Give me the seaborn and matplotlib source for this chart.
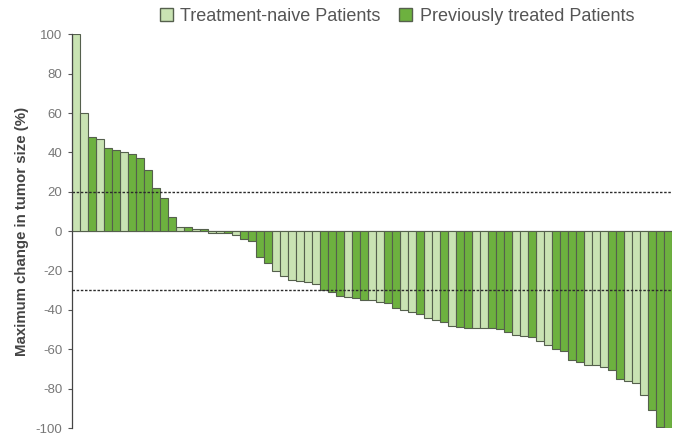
import matplotlib
matplotlib.use("Agg")
import matplotlib.pyplot as plt
import seaborn as sns
import pandas as pd
from matplotlib.patches import Patch

# maximum change in tumor size (%) per patient, sorted as in the waterfall
change = [100, 60, 48, 47, 42, 41, 40, 39, 37, 31, 22, 17, 7, 2, 2, 1, 1,
          -1, -1, -1, -2, -4, -5, -13, -16, -20, -23, -25, -25.5, -26, -27,
          -30, -31, -33, -33.5, -34, -35, -35, -36, -36.5, -39, -40, -41,
          -42, -44, -45, -46, -48, -48.5, -49, -49, -49, -49, -49.5, -51,
          -53, -53.5, -54, -56, -58, -60, -61, -65.5, -66.5, -68, -68, -69,
          -70.5, -75, -76, -77, -83, -91, -99.5, -100]

# L = treatment-naive, D = previously treated
group_code = list("LLDLDDLDDDDDDLDLDLLDLDDDDLLLLLLDDDLDDLLDDLLDLLDLDDLLDDDLLDLLDDDDLLLDDLLLDDD")
group_names = {"L": "Treatment-naive Patients", "D": "Previously treated Patients"}
groups = [group_names[c] for c in group_code]

yticks = [100, 80, 60, 40, 20, 0, -20, -40, -60, -80, -100]
ref_lines = [20, -30]

light_green = "#c9e3b3"
dark_green = "#6db13f"
edge = "#55604d"
palette = {"Treatment-naive Patients": light_green,
           "Previously treated Patients": dark_green}

df = pd.DataFrame({"patient": range(len(change)), "change": change, "group": groups})

sns.set_style("white")
plt.rcParams["font.family"] = ["Liberation Sans", "DejaVu Sans"]

fig = plt.figure(figsize=(6.75, 4.38), dpi=100)
ax = fig.add_axes([0.1067, 0.0228, 0.889, 0.899])

sns.barplot(data=df, x="patient", y="change", hue="group", palette=palette,
            dodge=False, width=1.0, saturation=1, edgecolor=edge, linewidth=0.8,
            legend=False, ax=ax)

for yv in ref_lines:
    ax.axhline(yv, color="#2b2b2b", linestyle=(0, (1.8, 1.2)), linewidth=1.0, zorder=3)
ax.axhline(0, color=edge, linewidth=0.8, zorder=0.5)

ax.set_ylim(-100, 100)
ax.set_xlim(-0.5, len(change) - 0.5)
ax.set_yticks(yticks)
ax.set_yticklabels([str(v) for v in yticks], color="#777777", fontsize=9.5)
ax.tick_params(axis="y", length=3, width=0.8, color="#555555", left=True, pad=4)
ax.set_xticks([])
ax.set_xlabel("")
ax.set_ylabel("Maximum change in tumor size (%)", fontsize=10.8, fontweight="bold",
              color="#444444", labelpad=5)

for side in ["top", "right", "bottom"]:
    ax.spines[side].set_visible(False)
ax.spines["left"].set_color("#444444")
ax.spines["left"].set_linewidth(0.9)

handles = [Patch(facecolor=light_green, edgecolor=edge, label="Treatment-naive Patients"),
           Patch(facecolor=dark_green, edgecolor=edge, label="Previously treated Patients")]
fig.legend(handles=handles, loc="center", bbox_to_anchor=(0.588, 0.962), ncol=2,
           frameon=False, fontsize=13, handlelength=0.75, handleheight=0.75,
           handletextpad=0.4, columnspacing=1.0, labelcolor="#555555")

fig.savefig("out.png", dpi=100)
